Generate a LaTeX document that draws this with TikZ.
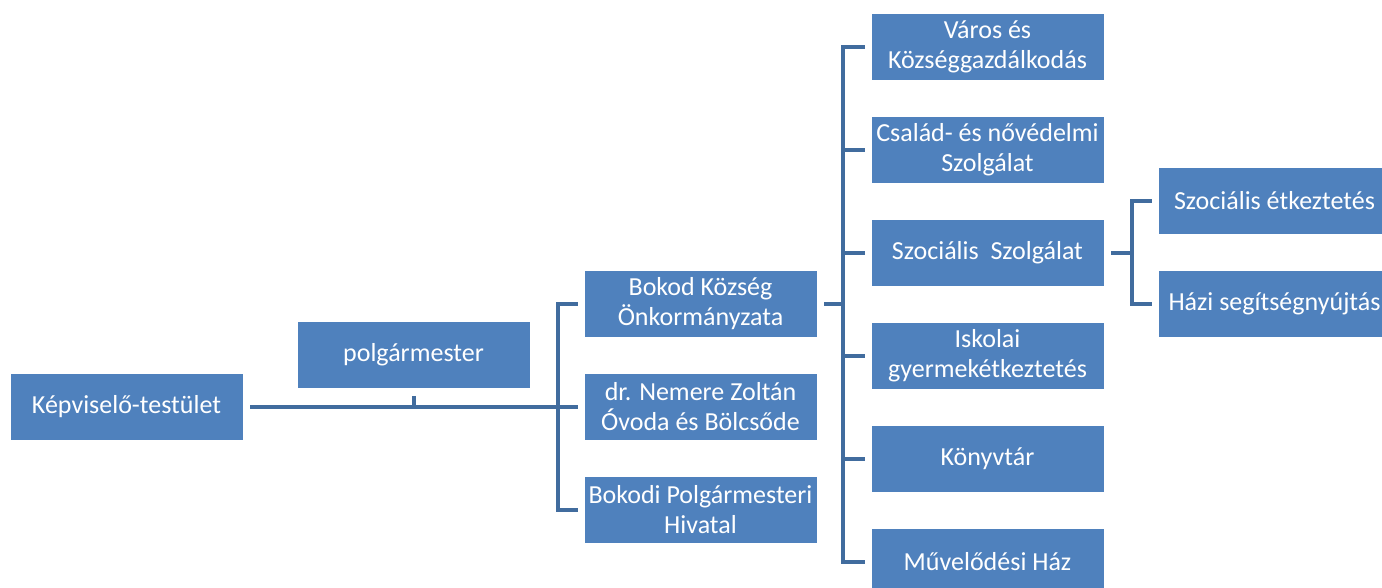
\documentclass[tikz,border=0pt]{standalone}
\usepackage{fontspec}
\setmainfont{Carlito}
\usetikzlibrary{positioning}
\definecolor{boxblue}{HTML}{4F81BD}
\definecolor{lineblue}{HTML}{416C9E}
\tikzset{
  unit/.style={rectangle, fill=boxblue, draw=white, line width=0.8pt, text=white,
    minimum width=233pt, minimum height=67pt, inner sep=0pt, align=center,
    font=\fontsize{26}{30}\selectfont},
  conn/.style={draw=lineblue, line width=4pt}
}
\begin{document}
\begin{tikzpicture}[x=1pt,y=-1pt]
        \useasboundingbox (0,0) rectangle (1382,587);
        \clip (0,0) rectangle (1382,587);
        %%top
        \node[unit] (testulet) at (126.5,406.5) {Képviselő-testület};
        \node[unit] (polg) at (413.5,355) {polgármester};
        %%level 2
        \node[unit] (onk) at (700.5,303.5) {Bokod Község\\Önkormányzata};
        \node[unit] (ovoda) at (700.5,406.5) {dr. Nemere Zoltán\\Óvoda és Bölcsőde};
        \node[unit] (hivatal) at (700.5,509.5) {Bokodi Polgármesteri\\Hivatal};
        %%level 3
        \node[unit] (varos) at (987.5,46.5) {Város és\\Községgazdálkodás};
        \node[unit] (csalad) at (987.5,149.5) {Család- és nővédelmi\\Szolgálat};
        \node[unit] (szoc) at (987.5,252.5) {Szociális\ \ Szolgálat};
        \node[unit] (iskola) at (987.5,355.5) {Iskolai\\gyermekétkeztetés};
        \node[unit] (konyvtar) at (987.5,458.5) {Könyvtár};
        \node[unit] (muvhaz) at (987.5,561.5) {Művelődési Ház};
        %%level 4
        \node[unit] (etkez) at (1274.5,201) {Szociális étkeztetés};
        \node[unit] (hazi) at (1274.5,303.5) {Házi segítségnyújtás};

        \coordinate (spine1) at (558,0);
        \coordinate (spine2) at (843,0);
        \coordinate (spine3) at (1132,0);

        %%testulet - level 2
        \draw[conn] ([xshift=7pt]testulet.east) -- ([xshift=-6pt]ovoda.west);
        \draw[conn] ([yshift=-7pt]polg.south) -- (polg.south |- ovoda.west);
        \draw[conn] ([xshift=-6pt]onk.west) -| (spine1 |- hivatal.west) -- ([xshift=-6pt]hivatal.west);

        %%onkormanyzat - level 3
        \draw[conn] ([xshift=7pt]onk.east) -- (spine2 |- onk.east);
        \draw[conn] ([xshift=-6pt]varos.west) -| (spine2 |- muvhaz.west) -- ([xshift=-6pt]muvhaz.west);
        \foreach \n in {csalad,szoc,iskola,konyvtar}
          \draw[conn] (spine2 |- \n.west) -- ([xshift=-6pt]\n.west);

        %%szocialis - level 4
        \draw[conn] ([xshift=7pt]szoc.east) -- (spine3 |- szoc.east);
        \draw[conn] ([xshift=-6pt]etkez.west) -| (spine3 |- hazi.west) -- ([xshift=-6pt]hazi.west);
\end{tikzpicture}
\end{document}
